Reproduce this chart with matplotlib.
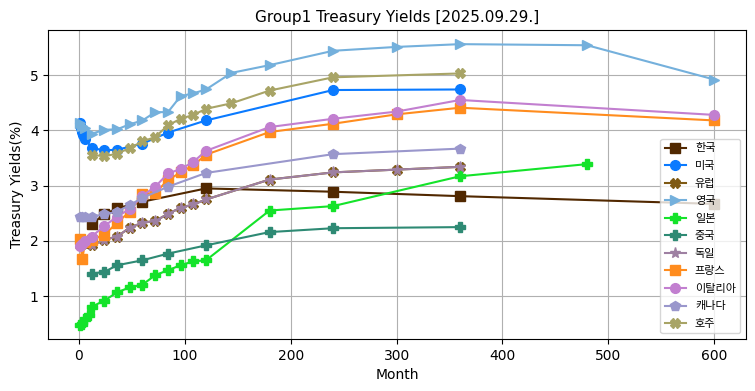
import numpy as np
import matplotlib
matplotlib.use('Agg')
import matplotlib.pyplot as plt

plt.rcParams['font.family'] = ['DejaVu Sans', 'Noto Sans CJK KR']

# Maturities in months and yields (%) per country
kr_m = [12, 24, 36, 60, 120, 240, 360, 600]
kr_y = [2.31, 2.48, 2.59, 2.71, 2.95, 2.89, 2.81, 2.67]

us_m = [1, 2, 3, 4, 6, 12, 24, 36, 60, 84, 120, 240, 360]
us_y = [4.13, 4.05, 3.97, 3.91, 3.85, 3.68, 3.64, 3.65, 3.76, 3.96, 4.18, 4.73, 4.74]

de_m = [1, 3, 6, 9, 12, 24, 36, 48, 60, 72, 84, 96, 108, 120, 180, 240, 300, 360]
de_y = [1.92, 1.95, 1.97, 1.96, 1.92, 2.02, 2.08, 2.24, 2.33, 2.36, 2.49, 2.60, 2.66, 2.75,
        3.11, 3.24, 3.29, 3.34]
eu_m = de_m
eu_y = de_y

uk_m = [1, 3, 6, 12, 24, 36, 48, 60, 72, 84, 96, 108, 120, 144, 180, 240, 300, 360, 480, 600]
uk_y = [4.13, 4.08, 4.05, 3.94, 4.01, 4.02, 4.11, 4.18, 4.33, 4.33, 4.62, 4.67, 4.74, 5.04,
        5.18, 5.44, 5.51, 5.56, 5.54, 4.92]

jp_m = [1, 3, 6, 9, 12, 24, 36, 48, 60, 72, 84, 96, 108, 120, 180, 240, 360, 480]
jp_y = [0.48, 0.50, 0.58, 0.66, 0.81, 0.92, 1.07, 1.16, 1.21, 1.38, 1.47, 1.56, 1.63, 1.65,
        2.55, 2.63, 3.17, 3.39]

cn_m = [12, 24, 36, 60, 84, 120, 180, 240, 360]
cn_y = [1.41, 1.44, 1.56, 1.65, 1.77, 1.92, 2.16, 2.23, 2.25]

fr_m = [1, 3, 6, 12, 24, 36, 48, 60, 72, 84, 96, 108, 120, 180, 240, 300, 360, 600]
fr_y = [2.04, 1.67, 1.98, 2.02, 2.11, 2.33, 2.53, 2.85, 2.87, 3.10, 3.24, 3.37, 3.56,
        3.97, 4.12, 4.29, 4.41, 4.18]

it_m = [1, 3, 6, 12, 24, 36, 48, 60, 72, 84, 96, 108, 120, 180, 240, 300, 360, 600]
it_y = [1.90, 1.95, 2.00, 2.08, 2.27, 2.44, 2.58, 2.82, 2.98, 3.22, 3.30, 3.43, 3.63,
        4.06, 4.21, 4.34, 4.55, 4.28]

ca_m = [1, 3, 6, 12, 24, 36, 48, 60, 84, 120, 240, 360]
ca_y = [2.44, 2.43, 2.43, 2.44, 2.48, 2.53, 2.65, 2.78, 2.98, 3.23, 3.57, 3.67]

au_m = [12, 24, 36, 48, 60, 72, 84, 96, 108, 120, 144, 180, 240, 360]
au_y = [3.56, 3.53, 3.58, 3.68, 3.80, 3.88, 4.09, 4.21, 4.28, 4.39, 4.49, 4.72, 4.96, 5.03]

series = [
    ('한국', kr_m, kr_y, '#512800', 's'),
    ('미국', us_m, us_y, '#0a7aff', 'o'),
    ('유럽', eu_m, eu_y, '#7f5a14', 'X'),
    ('영국', uk_m, uk_y, '#74b0dc', '>'),
    ('일본', jp_m, jp_y, '#14e32a', 'P'),
    ('중국', cn_m, cn_y, '#2e8a74', 'P'),
    ('독일', de_m, de_y, '#9e80a2', '*'),
    ('프랑스', fr_m, fr_y, '#ff8c1e', 's'),
    ('이탈리아', it_m, it_y, '#c27fd0', 'o'),
    ('캐나다', ca_m, ca_y, '#9a97cc', 'p'),
    ('호주', au_m, au_y, '#a8a466', 'X'),
]

fig = plt.figure(figsize=(7.55, 3.91), dpi=100)
ax = plt.axes()
fig.subplots_adjust(left=0.064, right=0.988, bottom=0.133, top=0.923)

for name, m, y, c, mk in series:
    ms = 8 if mk == '*' else 7
    ax.plot(m, y, color=c, marker=mk, markersize=ms, linewidth=1.5, label=name)

ax.set_title('Group1 Treasury Yields [2025.09.29.]', fontsize=11)
ax.set_xlabel('Month')
ax.set_ylabel('Treasury Yields(%)')
ax.grid(True)
ax.legend(loc='lower right', fontsize=8, labelspacing=0.68, handlelength=1.9)

plt.savefig('out.png')
